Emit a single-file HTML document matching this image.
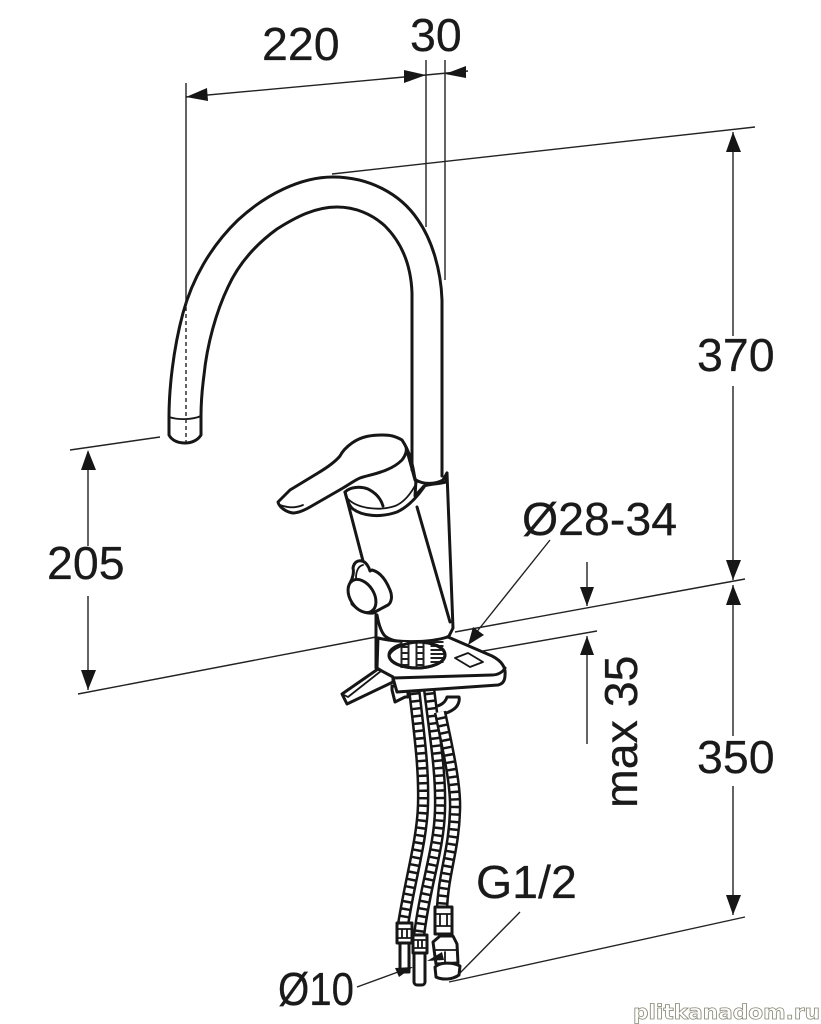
<!DOCTYPE html>
<html><head><meta charset="utf-8"><style>
html,body{margin:0;padding:0;background:#fff}
svg{display:block}
text{font-family:"Liberation Sans",sans-serif;font-size:46.5px;fill:#1a1a1a;stroke:#1a1a1a;stroke-width:.25}
.o{fill:none;stroke:#161616;stroke-width:3;stroke-linejoin:round;stroke-linecap:round}
.w{fill:#fff;stroke:#161616;stroke-width:3;stroke-linejoin:round;stroke-linecap:round}
.n{stroke-width:1.8}
.t{fill:none;stroke:#222;stroke-width:1.4}
.h{fill:#161616;stroke:none}
</style></head><body>
<svg width="821" height="1024" viewBox="0 0 821 1024" xmlns="http://www.w3.org/2000/svg">
<!-- dimension lines -->
<path class="t" d="M186 83V300M426 60V227M445 60V280M186 97L426 75L468 71M332 174L755 127M733 132V336M733 386V580M733 585V736M733 786V915M78 694L376 637M455 632L745 579M483 651L597 631M70 450L160 437M88 452V546M88 596V690M587 562V606M587 636V744M550 540L475 634M357 987L398 972M460 973L520 912M449 982L745 917"/>
<!-- arrowheads -->
<path class="h" d="M186 97L207 88L208 101ZM426 75L404 70L404 83ZM445 74L466 66L466 78ZM733 132L726 152L741 152ZM733 580L726 560L741 560ZM733 585L726 605L741 605ZM733 915L726 895L741 895ZM88 450L81 470L96 470ZM88 690L81 670L96 670ZM587 606L580 587L594 587ZM587 636L580 655L594 655Z"/>
<!-- mount post + body -->
<path class="o" d="M376 613V668"/>
<path class="w" d="M345 492L363 560L372 590L377 615C379 626 382 633 385 636C392 642 405 643 420 642C432 641 443 640 449 634L453 628L450 620L447 473L415 482Z" style="stroke:none"/>
<path class="o" d="M345 492L363 561M377 615C379 626 382 633 385 636C392 642 405 643 420 642C432 641 443 640 449 636L453 628L447 473M417 507L450 622"/>
<!-- spout -->
<path class="w" d="M442 476V300C441 270 432 240 418 220C400 193 368 177 333 177C300 177 265 195 238 220C210 247 192 280 183 313C173 350 169 390 169 417V435C172 441 179 443 185 443C192 443 198 440 201 435V416C201 405 202 390 204 375C207 345 216 312 228 287C238 265 255 245 277 229C296 217 315 207 337 207C355 207 372 214 385 226C402 243 411 265 412 293V470Z" style="stroke:none"/>
<path class="o" d="M442 476V300C441 270 432 240 418 220C400 193 368 177 333 177C300 177 265 195 238 220C210 247 192 280 183 313C173 350 169 390 169 417V435C172 441 179 443 185 443C192 443 198 440 201 435V416C201 405 202 390 204 375C207 345 216 312 228 287C238 265 255 245 277 229C296 217 315 207 337 207C355 207 372 214 385 226C402 243 411 265 412 293V470"/>
<path class="o n" d="M169 417C178 420 192 420 201 416"/>
<path d="M186 300V442" fill="none" stroke="#222" stroke-width="1.4" stroke-dasharray="4 3"/>
<!-- collar -->
<path class="w" d="M416 480C424 485 436 484 443 480L447 473L446 482C438 484 430 484 424 486L415 496Z"/>
<path class="o" d="M345 492C347 500 350 507 353 509C362 516 380 518 397 512C408 507 417 497 424 487"/>
<path class="o n" d="M348 499C358 509 380 511 395 506C405 502 412 492 417 482"/>
<path class="o" d="M345 492C350 487 360 486 368 489C376 493 381 499 383 506"/>
<!-- lever -->
<path class="w" d="M278 502C279 507 286 512 293 513C298 513 303 511 310 507L343 488C350 484 355 480 360 478C372 474 390 472 402 460C406 455 407 450 406 447L415 480C413 465 410 452 402 440C395 436 390 435 383 435C372 435 362 436 352 443C345 448 342 452 340 456C335 462 328 467 318 473L290 490Z"/>
<path class="o n" d="M280 505C288 508 296 508 303 505"/>
<path class="o" d="M406 447L416 482"/>
<!-- knob -->
<path class="w" d="M350 583C353 578 354 572 353 568C354 562 358 560 362 561C366 562 369 567 370 571L372 570C380 572 386 580 390 590C393 597 391 603 388 605L373 613C365 614 358 610 352 604Z"/>
<path class="o n" d="M356 578C356 572 358 566 363 565"/>
<ellipse class="w" cx="362" cy="596" rx="12" ry="18" transform="rotate(-32 362 596)"/>
<!-- clip beneath plate, behind hoses -->
<path class="w" d="M392 690L395 702L405 697H408V686H392Z"/>
<path class="w" d="M430 707C438 707 445 704 447 697H459C460 701 458 706 454 709C447 714 438 716 430 715Z"/>
<!-- hoses -->
<g fill="none">
<path d="M413 680C420 740 424 770 423 805C422 840 410 880 403 925" stroke="#161616" stroke-width="12.5"/>
<path d="M413 680C420 740 424 770 423 805C422 840 410 880 403 925" stroke="#fff" stroke-width="7.5" stroke-dasharray="5 2.5"/>
<path d="M428 680C435 740 441 770 440 810C439 850 425 885 419 936" stroke="#161616" stroke-width="12.5"/>
<path d="M428 680C435 740 441 770 440 810C439 850 425 885 419 936" stroke="#fff" stroke-width="7.5" stroke-dasharray="5 2.5"/>
<path d="M440 712C448 750 456 785 455 810C454 850 444 870 442 908" stroke="#161616" stroke-width="12.5"/>
<path d="M440 712C448 750 456 785 455 810C454 850 444 870 442 908" stroke="#fff" stroke-width="7.5" stroke-dasharray="5 2.5"/>
</g>
<!-- plate -->
<path class="w" d="M377 668L378 638C395 642 425 644 448 637L492 656C502 661 506 668 505 675C505 680 503 684 498 685L397 692L393 678Z"/>
<path class="o" d="M393 678L492 675C498 675 503 672 505 668"/>
<ellipse class="w" cx="417" cy="655" rx="28" ry="13"/>
<g fill="none">
<path d="M405 642V668M420 642V668" stroke="#222" stroke-width="9"/>
<path d="M405 642V668M420 642V668" stroke="#fff" stroke-width="5" stroke-dasharray="4 2"/>
<path d="M437 641V664" stroke="#222" stroke-width="13" stroke-dasharray="2 2"/>
</g>
<path class="w" style="fill:none" d="M389 655C392 648 405 643 417 642C433 642 445 647 445 655C445 663 430 668 417 668C402 668 389 663 389 655Z"/>
<path class="w n" d="M455 658L468 653L483 662L470 667Z"/>
<!-- Ø28 arrow head -->
<path class="h" d="M468 645L473 627L484 635Z"/>
<!-- wing -->
<path class="w" d="M378 669L342 694L347 704L393 682V677Z"/>
<path class="o n" d="M342 694L348 697L381 671"/>
<!-- fittings -->
<rect class="w" x="400" y="942" width="9" height="30"/>
<rect class="w" x="397" y="923" width="15" height="20"/>
<path class="o n" d="M397 929H412M397 938H412M402 929V938M407 929V938"/>
<rect class="w" x="414" y="952" width="11" height="33" rx="3"/>
<rect class="w" x="413" y="935" width="14" height="18"/>
<path class="o n" d="M413 940H427M413 948H427M418 940V948M422 940V948"/>
<rect class="w" x="435" y="907" width="17" height="27"/>
<path class="o n" d="M435 914H452M435 926H452M440 914V926M447 914V926"/>
<path class="w" d="M433 942L440 936H453L457 944L458 963L436 964Z"/>
<path class="w" d="M435 967C440 962 452 962 460 966L459 975C452 980 442 980 436 977Z"/>
<path class="o n" d="M434 950H456M445 952V962"/>
<path class="h" d="M395 968L413 967L399 977ZM427 961L442 952L444 960Z"/>
<!-- labels -->
<text x="262" y="60">220</text>
<text x="410" y="51">30</text>
<text x="697" y="371">370</text>
<text x="47" y="579">205</text>
<text x="697" y="773">350</text>
<text x="522" y="535">Ø28-34</text>
<text x="476" y="898">G1/2</text>
<text x="278" y="1005" textLength="76" lengthAdjust="spacingAndGlyphs">Ø10</text>
<text transform="translate(637 808) rotate(-90)">max 35</text>
<text x="633" y="1019" textLength="187" lengthAdjust="spacingAndGlyphs" style="font-family:'DejaVu Sans',sans-serif;font-size:20px;font-weight:bold;fill:#fff;stroke:#8a8a78;stroke-width:.8">plitkanadom.ru</text>
</svg>
</body></html>
